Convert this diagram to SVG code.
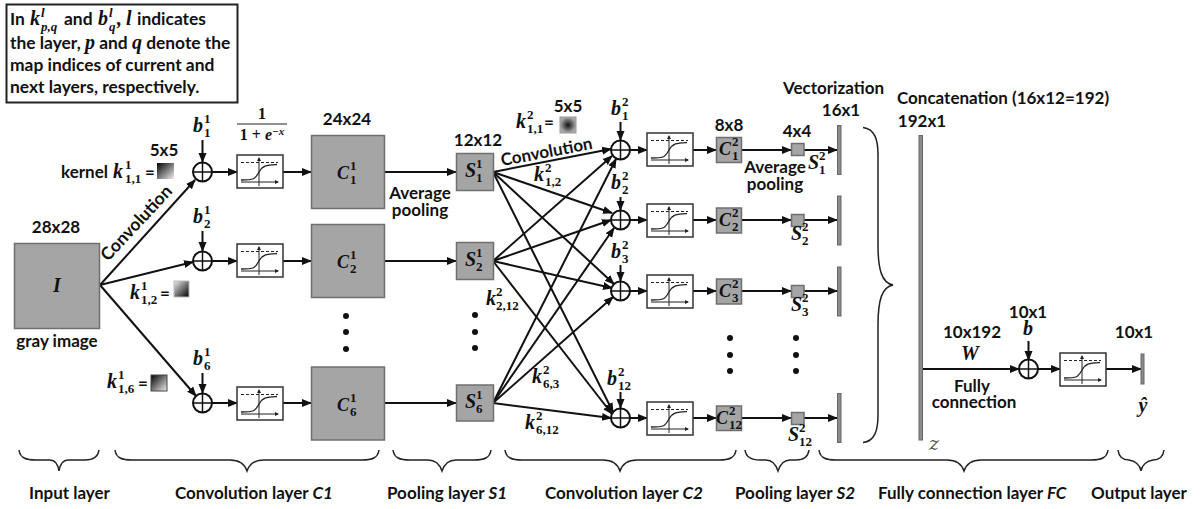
<svg xmlns="http://www.w3.org/2000/svg" xmlns:xlink="http://www.w3.org/1999/xlink" width="1200" height="509" viewBox="0 0 1200 509">
<style>
text{font-family:"Lato","Liberation Sans",sans-serif;font-weight:700;font-size:17px;fill:#111}
.c{text-anchor:middle}
.m{font-family:"Liberation Serif",serif;font-style:italic;font-size:20px}
.mc{font-family:"Liberation Serif",serif;font-style:italic;font-size:18px}
.s{font-family:"Liberation Serif",serif;font-weight:700;font-size:13px;font-style:normal}
.e{font-family:"Lato",sans-serif;font-style:normal;font-size:17px}
.i{font-family:"Liberation Serif",serif;font-style:italic}
.n{font-size:17.400px}
.b{fill:#a5a5a5;stroke:#6f6f6f;stroke-width:1.5}
.v{fill:#8c8c8c;stroke:#666;stroke-width:1}
.f{fill:#fff;stroke:#333;stroke-width:1.5}
.a{fill:none;stroke:#111;stroke-width:2;marker-end:url(#ah)}
.br{fill:none;stroke:#222;stroke-width:1.5}
.d{fill:#111}
</style>
<defs>
<marker id="ah" markerUnits="userSpaceOnUse" markerWidth="10" markerHeight="10" refX="9" refY="5" orient="auto"><path d="M0 1L10 5L0 9Z" fill="#111"/></marker>
<marker id="ar" markerUnits="userSpaceOnUse" markerWidth="4" markerHeight="4" refX="3" refY="2" orient="auto"><path d="M0 0L4 2L0 4Z" fill="#222"/></marker>
<linearGradient id="g1" x1="0" y1="0" x2="1" y2="1"><stop offset="0" stop-color="#000"/><stop offset="1" stop-color="#eee"/></linearGradient>
<linearGradient id="g2" x1="0" y1="0" x2="1" y2="1"><stop offset="0" stop-color="#eee"/><stop offset="1" stop-color="#000"/></linearGradient>
<radialGradient id="g3"><stop offset="0" stop-color="#111"/><stop offset="1" stop-color="#aaa"/></radialGradient>
<g id="sig">
<rect class="f" width="46" height="33"/>
<path d="M4 7.500H41" fill="none" stroke="#222" stroke-dasharray="3 2" stroke-width="1"/>
<path d="M22 31V3" fill="none" stroke="#222" stroke-width="1" marker-end="url(#ar)"/>
<path d="M4 27H41" fill="none" stroke="#222" stroke-width="1" marker-end="url(#ar)"/>
<path d="M4 25C18 25 18 24 22 17C26 10 30 10 40 9.500" fill="none" stroke="#222" stroke-width="1.300"/>
</g>
<g id="sum"><circle r="9.500" fill="#fff" stroke="#111" stroke-width="2"/><path d="M-9.500 0H9.500M0-9.500V9.500" stroke="#111" stroke-width="1.500"/></g>
</defs>
<rect width="1200" height="509" fill="#fff"/>

<g id="connectors">
<path class="a" d="M100 285L195 180"/>
<path class="a" d="M100 285L193 262"/>
<path class="a" d="M100 285L196 396"/>
<path class="a" d="M202.500 140V162"/><path class="a" d="M202.500 231V251"/><path class="a" d="M202.500 373V393"/>
<path class="a" d="M212 172H237"/><path class="a" d="M212 261H237"/><path class="a" d="M212 403H237"/>
<path class="a" d="M283 172H311"/><path class="a" d="M283 261H311"/><path class="a" d="M283 403H311"/>
<path class="a" d="M384 172H456"/><path class="a" d="M384 261H456"/><path class="a" d="M384 403H456"/>
<path class="a" d="M493 172L611 149"/><path class="a" d="M493 172L612 213"/><path class="a" d="M493 172L614 284"/><path class="a" d="M493 172L613 412"/>
<path class="a" d="M493 261L612 156"/><path class="a" d="M493 261L611 220"/><path class="a" d="M493 261L612 288"/><path class="a" d="M493 261L612 414"/>
<path class="a" d="M493 403L616 159"/><path class="a" d="M493 403L614 228"/><path class="a" d="M493 403L613 297"/><path class="a" d="M493 403L611 418"/>
<path class="a" d="M620.500 122V140"/><path class="a" d="M620.500 197V210"/><path class="a" d="M620.500 265V281"/><path class="a" d="M620.500 392V408"/>
<path class="a" d="M630 150H647"/><path class="a" d="M630 220H647"/><path class="a" d="M630 291H647"/><path class="a" d="M630 418H647"/>
<path class="a" d="M693 150H716"/><path class="a" d="M693 220H716"/><path class="a" d="M693 291H716"/><path class="a" d="M693 418H716"/>
<path class="a" d="M741 150H791"/><path class="a" d="M741 220H791"/><path class="a" d="M741 291H791"/><path class="a" d="M741 418H791"/>
<path class="a" d="M804 150H837"/><path class="a" d="M804 220H837"/><path class="a" d="M804 291H837"/><path class="a" d="M804 418H837"/>
<path class="a" d="M923 369H1019"/><path class="a" d="M1028.500 341V360"/><path class="a" d="M1038 369H1060"/><path class="a" d="M1106 369H1141"/>
</g>

<g id="note"><rect x="6.500" y="4.500" width="231" height="98" fill="#fff" stroke="#222" stroke-width="2"/>
<text class="n" x="10" y="25">In<tspan class="m" x="30" y="25">k</tspan><tspan class="s i" x="41" y="17">l</tspan><tspan class="s i" x="41" y="31">p,q</tspan><tspan class="n" x="64" y="25">and</tspan><tspan class="m" x="98" y="25">b</tspan><tspan class="s i" x="109" y="17">l</tspan><tspan class="s i" x="109" y="31">q</tspan><tspan class="m" x="117" y="25">,</tspan><tspan class="m" x="126" y="25">l</tspan><tspan class="n" x="137" y="25">indicates</tspan></text>
<text class="n" x="10" y="49">the layer, <tspan class="m">p</tspan> and <tspan class="m">q</tspan> denote the</text>
<text class="n" x="10" y="71">map indices of current and</text>
<text class="n" x="10" y="93">next layers, respectively.</text></g>

<g id="input"><rect class="b" x="14.500" y="243.500" width="85" height="85"/><text class="m c" x="57" y="292">I</text><text class="c" x="56" y="233">28x28</text><text class="c" x="57" y="347">gray image</text></g>

<g id="kernels">
<text x="61" y="178">kernel<tspan class="m" x="113" y="178">k</tspan><tspan class="s" x="125" y="169">1</tspan><tspan class="s" x="125" y="183">1,1</tspan><tspan x="145" y="178">=</tspan></text>
<rect x="157" y="163" width="17" height="16" fill="url(#g1)"/>
<text class="c" x="164" y="156">5x5</text>
<text class="m" x="130" y="299">k<tspan class="s" x="141" y="290">1</tspan><tspan class="s" x="141" y="304">1,2</tspan><tspan class="e" x="160" y="299">=</tspan></text>
<rect x="174" y="281" width="15" height="16" fill="url(#g2)" stroke="#bbb"/>
<text class="m" x="107" y="388">k<tspan class="s" x="118" y="379">1</tspan><tspan class="s" x="118" y="393">1,6</tspan><tspan class="e" x="138" y="389">=</tspan></text>
<rect x="151" y="375" width="16" height="16" fill="url(#g1)" stroke="#444"/>
<text class="m" x="516" y="128">k<tspan class="s" x="527" y="119">2</tspan><tspan class="s" x="527" y="133">1,1</tspan><tspan class="e" x="544" y="128">=</tspan></text>
<rect x="560" y="117" width="16" height="16" fill="url(#g3)" stroke="#999"/>
<text class="c" x="568" y="112">5x5</text>
<text transform="translate(108 262) rotate(-47)" style="font-size:17.500px">Convolution</text>
<text transform="translate(502 166) rotate(-10.700)">Convolution</text>
<text class="m" x="534" y="181">k<tspan class="s" x="545" y="172">2</tspan><tspan class="s" x="545" y="186">1,2</tspan></text>
<text class="m" x="486" y="305">k<tspan class="s" x="496" y="296">2</tspan><tspan class="s" x="496" y="310">2,12</tspan></text>
<text class="m" x="532" y="383">k<tspan class="s" x="543" y="374">2</tspan><tspan class="s" x="543" y="388">6,3</tspan></text>
<text class="m" x="525" y="429">k<tspan class="s" x="536" y="420">2</tspan><tspan class="s" x="536" y="434">6,12</tspan></text>
</g>

<g id="sums1">
<use xlink:href="#sum" href="#sum" x="202.500" y="172"/><use xlink:href="#sum" href="#sum" x="202.500" y="261"/><use xlink:href="#sum" href="#sum" x="202.500" y="403"/>
<text class="m" x="193" y="132">b<tspan class="s" x="204" y="123">1</tspan><tspan class="s" x="204" y="137">1</tspan></text>
<text class="m" x="193" y="223">b<tspan class="s" x="204" y="214">1</tspan><tspan class="s" x="204" y="228">2</tspan></text>
<text class="m" x="193" y="365">b<tspan class="s" x="204" y="356">1</tspan><tspan class="s" x="204" y="370">6</tspan></text>
</g>

<g id="sigmoids1">
<use xlink:href="#sig" href="#sig" x="237" y="155"/><use xlink:href="#sig" href="#sig" x="237" y="244"/><use xlink:href="#sig" href="#sig" x="237" y="387"/>
<text class="s c" x="262" y="119" style="font-size:16px">1</text><path d="M237 124H287" stroke="#222" stroke-width="1"/>
<text class="s c" x="262" y="140" style="font-size:16px">1 + <tspan class="i">e</tspan><tspan class="i" dy="-5" style="font-size:11px">−x</tspan></text>
</g>

<g id="c1-maps">
<rect class="b" x="311.500" y="135.500" width="73" height="73"/><rect class="b" x="311.500" y="224.500" width="73" height="73"/><rect class="b" x="311.500" y="367" width="73" height="73"/>
<text class="c" x="347" y="125">24x24</text>
<text class="mc" x="337" y="179">C<tspan class="s" x="350" y="170">1</tspan><tspan class="s" x="350" y="184">1</tspan></text>
<text class="mc" x="337" y="268">C<tspan class="s" x="350" y="259">1</tspan><tspan class="s" x="350" y="273">2</tspan></text>
<text class="mc" x="337" y="411">C<tspan class="s" x="350" y="402">1</tspan><tspan class="s" x="350" y="416">6</tspan></text>
<circle class="d" cx="346" cy="316" r="3"/><circle class="d" cx="346" cy="332" r="3"/><circle class="d" cx="346" cy="349" r="3"/>
<text class="c" x="420" y="199">Average<tspan x="420" y="216">pooling</tspan></text>
</g>

<g id="s1-maps">
<rect class="b" x="456.500" y="153.500" width="37" height="37"/><rect class="b" x="456.500" y="242.500" width="37" height="37"/><rect class="b" x="456.500" y="385" width="37" height="36"/>
<text class="c" x="478" y="146">12x12</text>
<text class="m" x="465" y="177">S<tspan class="s" x="476" y="168">1</tspan><tspan class="s" x="476" y="182">1</tspan></text>
<text class="m" x="465" y="266">S<tspan class="s" x="476" y="257">1</tspan><tspan class="s" x="476" y="271">2</tspan></text>
<text class="m" x="465" y="408">S<tspan class="s" x="476" y="399">1</tspan><tspan class="s" x="476" y="413">6</tspan></text>
<circle class="d" cx="475" cy="315" r="3"/><circle class="d" cx="475" cy="332" r="3"/><circle class="d" cx="475" cy="348" r="3"/>
</g>

<g id="sums2">
<use xlink:href="#sum" href="#sum" x="620.500" y="150"/><use xlink:href="#sum" href="#sum" x="620.500" y="220"/><use xlink:href="#sum" href="#sum" x="620.500" y="291"/><use xlink:href="#sum" href="#sum" x="620.500" y="418"/>
<text class="m" x="611" y="115">b<tspan class="s" x="622" y="106">2</tspan><tspan class="s" x="622" y="120">1</tspan></text>
<text class="m" x="611" y="189">b<tspan class="s" x="622" y="180">2</tspan><tspan class="s" x="622" y="194">2</tspan></text>
<text class="m" x="611" y="258">b<tspan class="s" x="622" y="249">2</tspan><tspan class="s" x="622" y="263">3</tspan></text>
<text class="m" x="607" y="385">b<tspan class="s" x="618" y="376">2</tspan><tspan class="s" x="618" y="390">12</tspan></text>
</g>

<g id="sigmoids2">
<use xlink:href="#sig" href="#sig" x="647" y="133"/><use xlink:href="#sig" href="#sig" x="647" y="204"/><use xlink:href="#sig" href="#sig" x="647" y="275"/><use xlink:href="#sig" href="#sig" x="647" y="402"/>
</g>

<g id="c2-maps">
<rect class="b" x="716.500" y="137.500" width="25" height="25"/><rect class="b" x="716.500" y="208" width="25" height="25"/><rect class="b" x="716.500" y="279" width="25" height="25"/><rect class="b" x="716.500" y="406" width="25" height="24.500"/>
<text class="c" x="729" y="131">8x8</text>
<text class="mc" x="719" y="155">C<tspan class="s" x="732" y="146">2</tspan><tspan class="s" x="732" y="160">1</tspan></text>
<text class="mc" x="719" y="226">C<tspan class="s" x="732" y="217">2</tspan><tspan class="s" x="732" y="231">2</tspan></text>
<text class="mc" x="719" y="297">C<tspan class="s" x="732" y="288">2</tspan><tspan class="s" x="732" y="302">3</tspan></text>
<text class="mc" x="716" y="424">C<tspan class="s" x="729" y="415">2</tspan><tspan class="s" x="729" y="429">12</tspan></text>
<circle class="d" cx="730" cy="338" r="3"/><circle class="d" cx="730" cy="355" r="3"/><circle class="d" cx="730" cy="371" r="3"/>
</g>

<g id="s2-maps">
<rect class="b" x="791.500" y="143.500" width="12.500" height="12"/><rect class="b" x="791.500" y="214.500" width="12.500" height="12"/><rect class="b" x="791.500" y="285.500" width="12.500" height="12"/><rect class="b" x="791.500" y="412.500" width="12.500" height="12"/>
<text class="c" x="797" y="137">4x4</text>
<text class="c" x="775" y="173">Average<tspan x="775" y="190">pooling</tspan></text>
<text class="m" x="808" y="169">S<tspan class="s" x="819" y="160">2</tspan><tspan class="s" x="819" y="174">1</tspan></text>
<text class="m" x="791" y="240">S<tspan class="s" x="802" y="231">2</tspan><tspan class="s" x="802" y="245">2</tspan></text>
<text class="m" x="791" y="311">S<tspan class="s" x="802" y="302">2</tspan><tspan class="s" x="802" y="316">3</tspan></text>
<text class="m" x="788" y="441">S<tspan class="s" x="799" y="432">2</tspan><tspan class="s" x="799" y="446">12</tspan></text>
<circle class="d" cx="796" cy="338" r="3"/><circle class="d" cx="796" cy="355" r="3"/><circle class="d" cx="796" cy="371" r="3"/>
</g>

<g id="vectors">
<rect class="v" x="837.500" y="125.500" width="3.500" height="49"/><rect class="v" x="837.500" y="196" width="3.500" height="49"/><rect class="v" x="837.500" y="267" width="3.500" height="49"/><rect class="v" x="837.500" y="393.500" width="3.500" height="49"/>
<text x="783" y="94">Vectorization</text><text class="c" x="841" y="116">16x1</text>
<path class="br" d="M863 127.500C875 129 878 140 878 155V245C878 270 882 283 893 285C882 287 878 300 878 325V415C878 430 875 441 863 442.500" stroke-width="2"/>
</g>

<g id="concat">
<rect class="v" x="919" y="135.500" width="3.500" height="304.500"/>
<text x="897" y="104">Concatenation (16x12=192)</text><text class="c" x="922" y="127">192x1</text>
<text x="934" y="450" text-anchor="middle" style="font-family:'DejaVu Serif',serif;font-style:italic;font-weight:400;font-size:19px;fill:#555">z</text>
</g>

<g id="fc">
<use xlink:href="#sum" href="#sum" x="1028.500" y="369"/><use xlink:href="#sig" href="#sig" x="1060" y="353"/>
<text class="c" x="972" y="338">10x192</text><text class="m c" x="970" y="360">W</text>
<text class="c" x="972" y="392">Fully<tspan x="974" y="408">connection</tspan></text>
<text class="c" x="1028" y="318">10x1<tspan class="m" x="1028" y="335">b</tspan></text>
</g>

<g id="output">
<rect class="v" x="1141" y="354" width="3" height="30"/>
<text class="c" x="1134" y="338">10x1</text><text class="m c" x="1143" y="412">ŷ</text>
</g>

<g id="braces">
<path class="br" d="M19 450C20 458 26 460 36 460H50C55 460 58 465 59 471C60 465 63 460 68 460H85C92 460 98 458 99 450"/>
<path class="br" d="M115 450C116 458 122 460 132 460H230C240 460 245 465 247 471C249 465 254 460 264 460H362C372 460 378 458 379 450"/>
<path class="br" d="M393 450C394 458 400 460 410 460H428C436 460 440 465 442 471C444 465 448 460 456 460H474C484 460 490 458 491 450"/>
<path class="br" d="M505 450C506 458 512 460 522 460H603C613 460 618 465 620 471C622 465 627 460 637 460H719C729 460 735 458 736 450"/>
<path class="br" d="M745 450C746 458 752 460 760 460H766C772 460 776 465 778 471C780 465 784 460 790 460H796C803 460 808 458 809 450"/>
<path class="br" d="M819 450C820 458 826 460 836 460H947C957 460 962 465 964 471C966 465 971 460 981 460H1091C1101 460 1107 458 1108 450"/>
<path class="br" d="M1118 450C1119 458 1124 460 1129 460C1135 461 1140 465 1141 471C1142 465 1147 461 1153 460C1158 460 1163 458 1164 450"/>
</g>

<g id="layer-labels">
<text x="29" y="499">Input layer</text>
<text x="175" y="499">Convolution layer <tspan font-style="italic">C1</tspan></text>
<text x="387" y="499">Pooling layer <tspan font-style="italic">S1</tspan></text>
<text x="545" y="499">Convolution layer <tspan font-style="italic">C2</tspan></text>
<text x="735" y="499">Pooling layer <tspan font-style="italic">S2</tspan></text>
<text x="878" y="499">Fully connection layer <tspan font-style="italic">FC</tspan></text>
<text x="1091" y="499">Output layer</text>
</g>
</svg>
